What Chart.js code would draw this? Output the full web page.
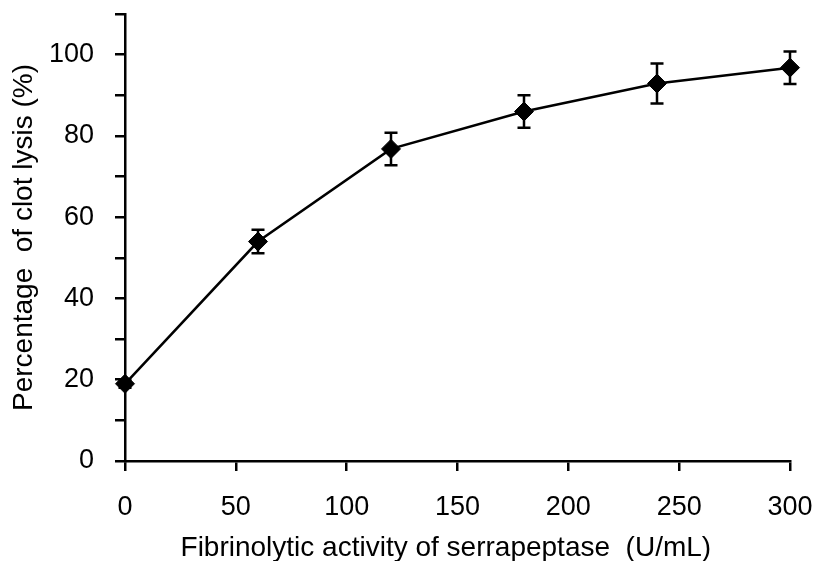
<!DOCTYPE html>
<html>
<head>
<meta charset="utf-8">
<script src="https://cdn.jsdelivr.net/npm/chart.js@4.4.1/dist/chart.umd.min.js"></script>
<style>
  html, body { margin: 0; padding: 0; background: #fff; }
  #wrap { width: 816px; height: 561px; }
</style>
</head>
<body>
<div id="wrap"><canvas id="lysisChart"></canvas></div>
<script>
// activity (U/mL) vs clot lysis (%)
const activity = [0, 60, 120, 180, 240, 300];
const lysis = [19, 54, 76.8, 86, 92.9, 96.8];
const lysisErr = [1, 2.9, 4, 4, 4.9, 4];
const yLabels = [0, 20, 40, 60, 80, 100];

const FONT = "'Liberation Sans', Arial, sans-serif";

// draws the vertical error bars with caps
const errorBars = {
    id: 'errorBars',
    afterDatasetsDraw(chart) {
        const ctx = chart.ctx;
        const xs = chart.scales.x, ys = chart.scales.y;
        ctx.save();
        ctx.strokeStyle = '#000';
        ctx.lineWidth = 2.5;
        activity.forEach((a, i) => {
            const x = xs.getPixelForValue(a);
            const top = ys.getPixelForValue(lysis[i] + lysisErr[i]);
            const bot = ys.getPixelForValue(lysis[i] - lysisErr[i]);
            ctx.beginPath();
            ctx.moveTo(x, top); ctx.lineTo(x, bot);
            ctx.moveTo(x - 6.5, top); ctx.lineTo(x + 6.5, top);
            ctx.moveTo(x - 6.5, bot); ctx.lineTo(x + 6.5, bot);
            ctx.stroke();
        });
        ctx.restore();
    }
};

document.addEventListener('DOMContentLoaded', function () {
    const ctx = document.getElementById('lysisChart').getContext('2d');

    new Chart(ctx, {
        type: 'scatter',
        data: {
            datasets: [{
                data: activity.map((a, i) => ({ x: a, y: lysis[i] })),
                showLine: true,
                clip: false,
                borderColor: '#000',
                borderWidth: 2.5,
                backgroundColor: '#000',
                pointStyle: 'rectRot',
                pointRadius: 9.5,
                pointBorderWidth: 1,
                pointBorderColor: '#000'
            }]
        },
        options: {
            responsive: true,
            maintainAspectRatio: false,
            animation: false,
            layout: { padding: { top: 14, right: 26, left: 0, bottom: 0 } },
            plugins: {
                legend: { display: false },
                tooltip: { enabled: false }
            },
            scales: {
                x: {
                    type: 'linear',
                    min: 0,
                    max: 300,
                    afterFit(scale) {
                        scale.height = 100;
                        scale.paddingLeft = 0;
                        scale.paddingRight = 0;
                    },
                    ticks: {
                        stepSize: 50,
                        color: '#000',
                        padding: 20,
                        font: { family: FONT, size: 27 }
                    },
                    grid: { drawOnChartArea: false, drawTicks: true, tickLength: 10, color: '#000', lineWidth: 2.5 },
                    border: { display: true, color: '#000', width: 2.5 },
                    title: {
                        display: true,
                        // trailing spaces nudge the centred title a little left, as in the figure
                        text: 'Fibrinolytic activity of serrapeptase  (U/mL)   ',
                        color: '#000',
                        font: { family: FONT, size: 28 },
                        padding: { top: 0, bottom: -4 }
                    }
                },
                y: {
                    min: 0,
                    max: 110,
                    afterFit(scale) {
                        scale.width = 125;
                        scale.paddingTop = 0;
                        scale.paddingBottom = 0;
                    },
                    ticks: {
                        stepSize: 10,
                        color: '#000',
                        padding: 21,
                        font: { family: FONT, size: 27 },
                        callback: v => yLabels.includes(v) ? v : ''
                    },
                    grid: { drawOnChartArea: false, drawTicks: true, tickLength: 10, color: '#000', lineWidth: 2.5 },
                    border: { display: true, color: '#000', width: 2.5 },
                    title: {
                        display: true,
                        text: 'Percentage  of clot lysis (%)',
                        color: '#000',
                        font: { family: FONT, size: 28 },
                        padding: { top: 7 }
                    }
                }
            }
        },
        plugins: [errorBars]
    });
});
</script>
</body>
</html>
